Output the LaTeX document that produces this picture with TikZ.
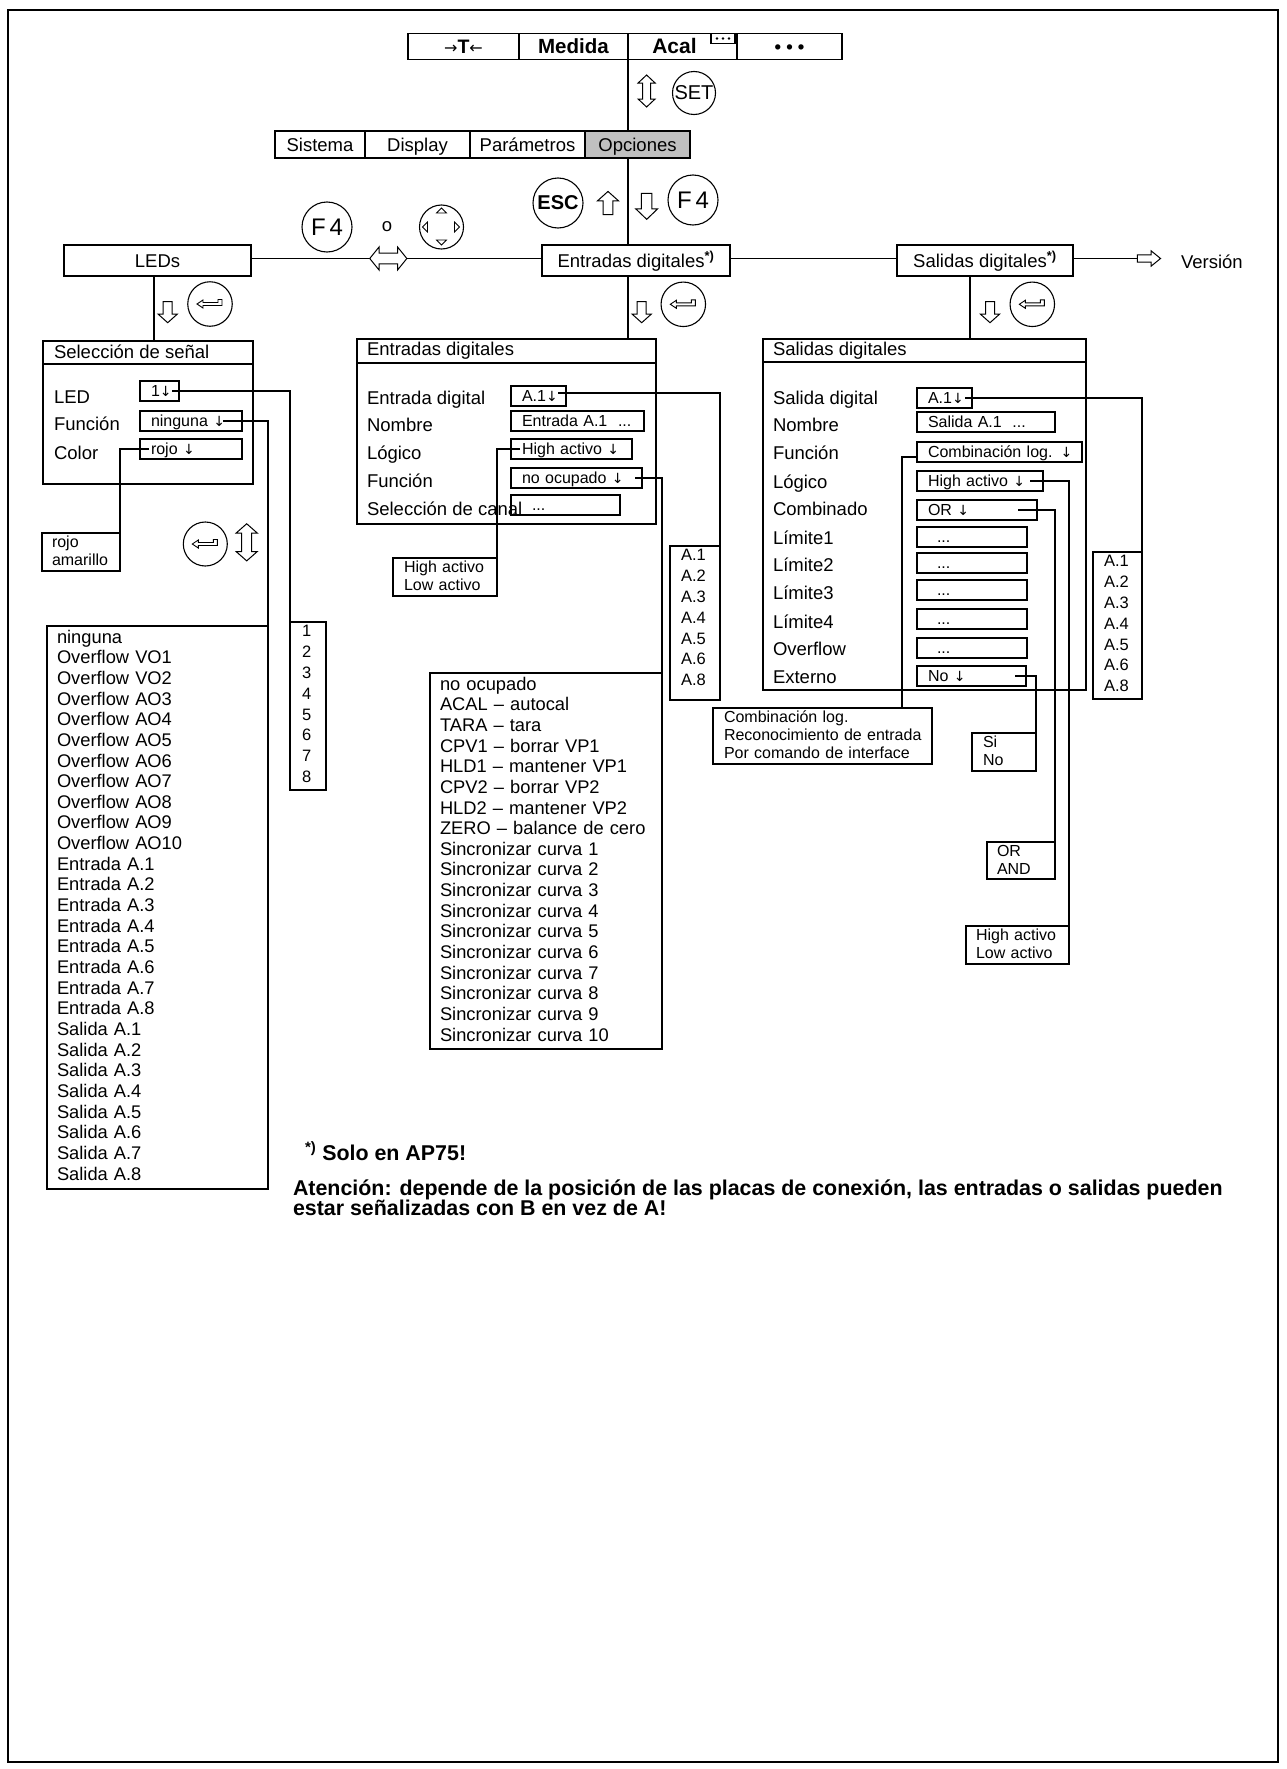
\documentclass[tikz,border=0pt]{standalone}
\usepackage{fontspec}
\setmainfont{Liberation Sans}
\newfontfamily\symfont{DejaVu Sans}
\usepackage{tikz}
\usetikzlibrary{positioning,calc}
\definecolor{OptGray}{RGB}{192,192,192}
\newcommand{\fontlbl}{\fontsize{18.5pt}{21pt}\selectfont}
\newcommand{\fontlst}{\fontsize{18.3pt}{20.65pt}\selectfont}
\newcommand{\fontalst}{\fontsize{16.5pt}{20.8pt}\selectfont}
\newcommand{\fontfld}{\fontsize{16pt}{18pt}\selectfont}
\newcommand{\fontsml}{\fontsize{16pt}{18pt}\selectfont}
\newcommand{\fontnote}{\fontsize{21.4pt}{19pt}\selectfont\bfseries}
\newcommand{\dn}{{\symfont\fontsize{14pt}{16pt}\selectfont ↓}}

\begin{document}
\begin{tikzpicture}[
x=1pt,y=-1pt,line width=1.1pt,
every node/.style={inner sep=0pt,outer sep=0pt},
menucell/.style={rectangle,draw,minimum height=26pt,font=\fontlbl,text height=13.2pt,text depth=0pt},
topbox/.style={rectangle,draw,minimum height=31pt,font=\fontlbl,text height=13.2pt,text depth=0pt},
btn/.style={circle,draw},
panelbox/.style={rectangle,draw,anchor=north west},
lbl/.style={anchor=west,font=\fontlbl,text height=13.2pt,text depth=0pt},
fieldbox/.style={rectangle,draw,anchor=north west,minimum height=20pt,inner xsep=11pt,font=\fontfld,text height=11.5pt,text depth=0pt,align=left},
biglist/.style={rectangle,draw,anchor=north west,align=left,inner xsep=10pt,inner ysep=4pt,font=\fontlst,text height=13.1pt},
alist/.style={rectangle,draw,anchor=north west,align=left,inner xsep=11pt,inner ysep=3pt,font=\fontalst,text height=11.8pt},
smalllist/.style={rectangle,draw,anchor=north west,align=left,inner xsep=11pt,inner ysep=3pt,font=\fontsml,text height=11.5pt},
hollowdown/.pic={\draw[fill=white,line width=1pt] (-4.5,-10.5) -- (4.5,-10.5) -- (4.5,2) -- (9.5,2) -- (0,10.5) -- (-9.5,2) -- (-4.5,2) -- cycle;},
hollowupdown/.pic={\draw[fill=white,line width=1pt] (0,-16) -- (8.5,-8) -- (4,-8) -- (4,8) -- (8.5,8) -- (0,16) -- (-8.5,8) -- (-4,8) -- (-4,-8) -- (-8.5,-8) -- cycle;},
enterkey/.pic={\draw[line width=0.9pt] (-13,0) -- (-7,-4) -- (-7,-1.5) -- (8,-1.5) -- (8,-4.5) -- (12,-4.5) -- (12,1.5) -- (-7,1.5) -- (-7,4) -- cycle;}
]
\useasboundingbox (0,0) rectangle (1286,1769);
\draw[line width=2pt] (8,10) rectangle (1278,1762);

% main menu
\node[menucell,minimum width=111pt] (tare) at (463.5,46.5) {{\symfont\fontsize{16pt}{18pt}\selectfont →}\textbf{\fontsize{19.5pt}{21pt}\selectfont T}{\symfont\fontsize{16pt}{18pt}\selectfont ←}};
\node[menucell,minimum width=109pt,right=0pt of tare] (meas) {\fontsize{20.5pt}{22pt}\selectfont\textbf{Medida}};
\node[menucell,minimum width=109pt,right=0pt of meas] (acal) {\fontsize{21pt}{22pt}\selectfont\textbf{Acal}\hspace{16pt}\mbox{}};
\node[menucell,minimum width=105pt,right=0pt of acal] (more) {\textbf{• • •}};
\node[draw,minimum width=24pt,minimum height=10pt,anchor=north east] (acalbox) at ([xshift=-2pt]acal.north east) {};
\fill ([xshift=-6pt]acalbox.center) circle (1.3pt);
\fill (acalbox.center) circle (1.3pt);
\fill ([xshift=6pt]acalbox.center) circle (1.3pt);

% options menu
\node[menucell,minimum width=90pt,minimum height=27pt] (sys) at (320,144.5) {Sistema};
\node[menucell,minimum width=105pt,minimum height=27pt,right=0pt of sys] (disp) {Display};
\node[menucell,minimum width=115pt,minimum height=27pt,right=0pt of disp] (par) {Parámetros};
\node[menucell,minimum width=105pt,minimum height=27pt,fill=OptGray,right=0pt of par] (opt) {Opciones};
\draw (acal.south west) -- (acal.south west |- opt.north);
\pic at (646.6,91) {hollowupdown};
\node[btn,minimum size=43pt,font=\fontsize{20pt}{22pt}\selectfont] (set) at (694,93) {SET};

% keys
\node[btn,minimum size=50pt,font=\fontsize{20pt}{22pt}\selectfont\bfseries] (esc) at (558,203) {ESC};
\pic[rotate=180,scale=1.1] at (608,203) {hollowdown};
\pic[xscale=1.16,yscale=1.24] at (646.7,206.3) {hollowdown};
\node[btn,minimum size=50pt,font=\fontsize{24pt}{26pt}\selectfont] (f4r) at (693,200) {F\,4};
\node[btn,minimum size=50pt,font=\fontsize{24pt}{26pt}\selectfont] (f4l) at (327,227) {F\,4};
\node[font=\fontlbl] (alt) at (387,227) {o};
\node[btn,minimum size=44pt] (cursor) at (441.5,227) {};
\draw[line width=0.8pt] ([shift={(-5,-14)}]cursor.center) -- ++(10,0) -- ++(-5,-5) -- cycle;
\draw[line width=0.8pt] ([shift={(-5,13)}]cursor.center) -- ++(10,0) -- ++(-5,5) -- cycle;
\draw[line width=0.8pt] ([shift={(-14,-5)}]cursor.center) -- ++(0,10) -- ++(-5,-5) -- cycle;
\draw[line width=0.8pt] ([shift={(13,-5)}]cursor.center) -- ++(0,10) -- ++(5,-5) -- cycle;

% second level
\node[topbox,minimum width=187pt] (leds) at (157.5,260.5) {LEDs};
\node[topbox,minimum width=188pt] (inp) at (636,260.5) {Entradas digitales\textsuperscript{\bfseries *)}};
\node[topbox,minimum width=176pt] (outp) at (985,260.5) {Salidas digitales\textsuperscript{\bfseries *)}};
\node[lbl] (ver) at (1181,262) {Versión};
\coordinate (verTail) at (1137.5,258.5);
\draw (acal.south west |- opt.south) -- (acal.south west |- inp.north);
\draw ([yshift=2pt]leds.east) -- ([yshift=2pt]inp.west);
\draw ([yshift=2pt]inp.east) -- ([yshift=2pt]outp.west);
\draw ([yshift=2pt]outp.east) -- (verTail);
\pic[rotate=90,xscale=0.8,yscale=1.1] at (1149,258.5) {hollowdown};
\pic[rotate=90,xscale=1.35,yscale=1.16] at (388.3,258.5) {hollowupdown};

% enter keys
\node[btn,minimum size=44.5pt] (entLeds) at (210,304) {};
\node[btn,minimum size=44.5pt] (entIn) at (683.3,304.3) {};
\node[btn,minimum size=44.5pt] (entOut) at (1032.3,304.3) {};
\node[btn,minimum size=44pt] (entSel) at (205.3,544) {};
\pic at (entLeds) {enterkey};
\pic at (entIn) {enterkey};
\pic at (entOut) {enterkey};
\pic at (entSel) {enterkey};
\pic at (167.7,312.2) {hollowdown};
\pic at (641.7,312.2) {hollowdown};
\pic at (990,312.2) {hollowdown};
\pic[xscale=1.24,yscale=1.16] at (246.7,542.3) {hollowupdown};

% LEDs
\node[panelbox,minimum width=210pt,minimum height=143pt] (selP) at (43,341) {};
\draw ([yshift=-23pt]selP.north west) -- ([yshift=-23pt]selP.north east);
\draw ([xshift=-3.5pt]leds.south) -- ([xshift=-3.5pt]leds.south |- selP.north);
\node[lbl] (selT) at (54,352) {Selección de señal};
\node[lbl] (ledLb) at (54,397) {LED};
\node[lbl] (funLb) at (54,424) {Función};
\node[lbl] (colLb) at (54,453) {Color};
\node[fieldbox,text width=17pt] (ledF) at (140,381) {\mbox{1\dn}};
\node[fieldbox,text width=80pt] (funF) at (140,411) {\mbox{ninguna \dn}};
\node[fieldbox,text width=80pt] (colF) at (140,439) {\mbox{rojo \dn}};
\node[smalllist,inner xsep=10pt,text width=58pt,text depth=20.5pt] (colL) at (42,533) {rojo\\amarillo};
\node[alist,inner xsep=12pt,text width=12pt,text depth=150.2pt] (numL) at (290,622) {1\\2\\3\\4\\5\\6\\7\\8};
\node[biglist,text width=201pt,text depth=541.9pt] (selL) at (47,626) {ninguna\\Overflow VO1\\Overflow VO2\\Overflow AO3\\Overflow AO4\\Overflow AO5\\Overflow AO6\\Overflow AO7\\Overflow AO8\\Overflow AO9\\Overflow AO10\\Entrada A.1\\Entrada A.2\\Entrada A.3\\Entrada A.4\\Entrada A.5\\Entrada A.6\\Entrada A.7\\Entrada A.8\\Salida A.1\\Salida A.2\\Salida A.3\\Salida A.4\\Salida A.5\\Salida A.6\\Salida A.7\\Salida A.8};
\draw ([xshift=-7pt]ledF.east) -| (numL.north west);
\draw ([xshift=-19pt]funF.east) -| (selL.north east);
\draw ([xshift=9pt]colF.west) -| (colL.north east);

% digital inputs
\node[panelbox,minimum width=299pt,minimum height=185pt] (inP) at (357,339) {};
\draw ([yshift=-24pt]inP.north west) -- ([yshift=-24pt]inP.north east);
\draw ([xshift=-8pt]inp.south) -- ([xshift=-8pt]inp.south |- inP.north);
\node[lbl] (inT) at (367,349) {Entradas digitales};
\node[lbl] (inLb) at (367,398) {Entrada digital};
\node[lbl] (nameInLb) at (367,425) {Nombre};
\node[lbl] (logInLb) at (367,453) {Lógico};
\node[lbl] (funInLb) at (367,481) {Función};
\node[lbl] (chanLb) at (367,509) {Selección de canal};
\node[fieldbox,text width=33pt] (inF) at (511,386) {\mbox{A.1\dn}};
\node[fieldbox,text width=111pt] (nameInF) at (511,411) {\mbox{Entrada A.1~~...}};
\node[fieldbox,text width=99pt] (logInF) at (511,439) {\mbox{High activo \dn}};
\node[fieldbox,text width=109pt] (funInF) at (511,468) {\mbox{no ocupado \dn}};
\node[fieldbox,text width=87pt] (chanF) at (511,495) {\hspace*{10pt}...};
\node[alist,text width=28pt,text depth=136.2pt] (inL) at (670,546) {A.1\\A.2\\A.3\\A.4\\A.5\\A.6\\A.8};
\node[smalllist,text width=82pt,text depth=20.5pt] (hlInL) at (393,558) {High activo\\Low activo};
\node[biglist,text width=212pt,text depth=354.9pt] (funInL) at (430,673) {no ocupado\\ACAL – autocal\\TARA – tara\\CPV1 – borrar VP1\\HLD1 – mantener VP1\\CPV2 – borrar VP2\\HLD2 – mantener VP2\\ZERO – balance de cero\\Sincronizar curva 1\\Sincronizar curva 2\\Sincronizar curva 3\\Sincronizar curva 4\\Sincronizar curva 5\\Sincronizar curva 6\\Sincronizar curva 7\\Sincronizar curva 8\\Sincronizar curva 9\\Sincronizar curva 10};
\draw ([xshift=-8pt,yshift=3pt]inF.east) -| (inL.north east);
\draw ([xshift=9pt]logInF.west) -| (hlInL.north east);
\draw ([xshift=-7pt]funInF.east) -| (funInL.north east);

% digital outputs
\node[panelbox,minimum width=323pt,minimum height=351pt] (outP) at (763,339) {};
\draw ([yshift=-23pt]outP.north west) -- ([yshift=-23pt]outP.north east);
\draw ([xshift=-15pt]outp.south) -- ([xshift=-15pt]outp.south |- outP.north);
\node[lbl] (outT) at (773,349) {Salidas digitales};
\node[lbl] (outLb) at (773,398) {Salida digital};
\node[lbl] (nameOutLb) at (773,425) {Nombre};
\node[lbl] (funOutLb) at (773,453) {Función};
\node[lbl] (logOutLb) at (773,482) {Lógico};
\node[lbl] (combLb) at (773,509) {Combinado};
\node[lbl] (lim1Lb) at (773,538) {Límite1};
\node[lbl] (lim2Lb) at (773,565) {Límite2};
\node[lbl] (lim3Lb) at (773,593) {Límite3};
\node[lbl] (lim4Lb) at (773,622) {Límite4};
\node[lbl] (ovfLb) at (773,649) {Overflow};
\node[lbl] (extLb) at (773,677) {Externo};
\node[fieldbox,text width=33pt] (outF) at (917,388) {\mbox{A.1\dn}};
\node[fieldbox,text width=116pt] (nameOutF) at (917,412) {\mbox{Salida A.1~~...}};
\node[fieldbox,text width=143pt] (funOutF) at (917,442) {\mbox{Combinación log. \dn}};
\node[fieldbox,text width=104pt] (logOutF) at (917,471) {\mbox{High activo \dn}};
\node[fieldbox,text width=98pt] (combF) at (917,500) {\mbox{OR \dn}};
\node[fieldbox,text width=88pt] (lim1F) at (917,527) {\hspace*{9pt}...};
\node[fieldbox,text width=88pt] (lim2F) at (917,553) {\hspace*{9pt}...};
\node[fieldbox,text width=88pt] (lim3F) at (917,580) {\hspace*{9pt}...};
\node[fieldbox,text width=88pt] (lim4F) at (917,609) {\hspace*{9pt}...};
\node[fieldbox,text width=88pt] (ovfF) at (917,638) {\hspace*{9pt}...};
\node[fieldbox,text width=87pt] (extF) at (917,666) {\mbox{No \dn}};
\node[alist,text width=27pt,text depth=129.2pt] (outL) at (1093,552) {A.1\\A.2\\A.3\\A.4\\A.5\\A.6\\A.8};
\node[smalllist,text width=197pt,text depth=38.5pt] (cmbL) at (713,708) {\mbox{Combinación log.}\\\mbox{Reconocimiento de entrada}\\\mbox{Por comando de interface}};
\node[smalllist,text width=42pt,text depth=20.5pt] (siL) at (972,733) {Si\\No};
\node[smalllist,inner xsep=10pt,text width=48pt,text depth=19.5pt] (orL) at (987,842) {OR\\AND};
\node[smalllist,inner xsep=10pt,text width=83pt,text depth=20.5pt] (hlOutL) at (966,926) {High activo\\Low activo};
\draw ([xshift=-7pt]outF.east) -| (outL.north east);
\draw ([yshift=-5pt]funOutF.west) -| ([xshift=-30pt]cmbL.north east);
\draw ([xshift=-13pt]logOutF.east) -| (hlOutL.north east);
\draw ([xshift=-19pt]combF.east) -| (orL.north east);
\draw ([xshift=-11pt]extF.east) -| (siL.north east);

% notes
\node[anchor=base west,font=\fontnote] (note0) at (305,1160) {\textsuperscript{*)} Solo en AP75!};
\node[anchor=base west,font=\fontnote] (note1) at (293,1195.5) {Atención: depende de la posición de las placas de conexión, las entradas o salidas pueden};
\node[anchor=base west,font=\fontnote] (note2) at (293,1215.5) {estar señalizadas con B en vez de A!};
\end{tikzpicture}
\end{document}
